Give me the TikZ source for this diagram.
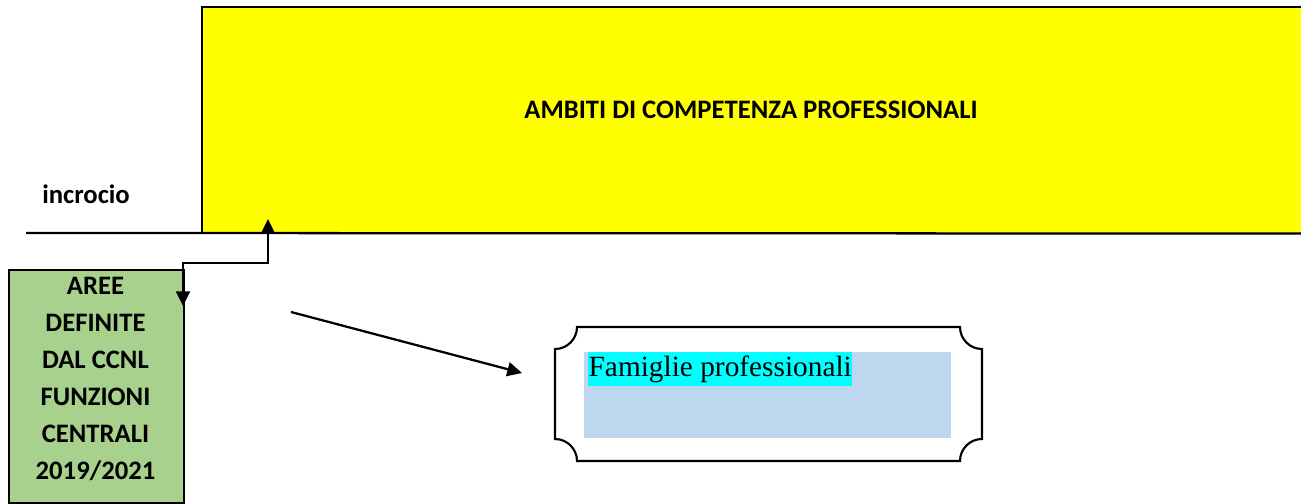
\documentclass[tikz,border=0pt]{standalone}
\usepackage{fontspec}
\setmainfont{Carlito}
\newfontfamily\serifface{Liberation Serif}
\usetikzlibrary{arrows.meta}
\definecolor{ambyellow}{HTML}{FFFF00}
\definecolor{areegreen}{HTML}{A9D18E}
\definecolor{famblue}{HTML}{BDD7EE}
\definecolor{famcyan}{HTML}{00FFFF}
\begin{document}
\begin{tikzpicture}[x=0.75pt,y=-0.75pt,
  bordo/.style={line width=1.7pt,black},
  conn/.style={line width=1.7pt,black},
  tip/.tip={Triangle[length=11pt,width=10.5pt]},
  lbl/.style={font=\bfseries\fontsize{20}{24}\selectfont,inner sep=0pt}]
\useasboundingbox (0,0) rectangle (1301,503);
% yellow box
\node (amb) [fill=ambyellow,inner sep=0pt,minimum width=824.25pt,minimum height=169.5pt,anchor=north west] at (202,7) {};
\draw[bordo] (amb.south west) -- (amb.north west) -- (amb.north east);
\coordinate (lineL) at (26,233);
\draw[bordo] (lineL) -- (amb.south east);
\node (ambtxt) [lbl] at (751,110) {AMBITI DI COMPETENZA PROFESSIONALI};
\node (incr) [lbl,anchor=west] at (42,194) {incrocio};
% green box
\node (aree) [fill=areegreen,draw,line width=1.4pt,inner sep=0pt,minimum width=131.25pt,minimum height=174.75pt,anchor=north west] at (8,269) {};
\node (areetxt) [lbl,align=center,font=\bfseries\fontsize{20}{27.75}\selectfont] at (95.5,379) {AREE\\DEFINITE\\DAL CCNL\\FUNZIONI\\CENTRALI\\2019/2021};
% plaque
\draw[line width=1.6pt,fill=white] (577,327) -- (960,327)
  .. controls (960,339.15) and (969.85,349) .. (982,349) -- (982,439)
  .. controls (969.85,439) and (960,448.85) .. (960,461) -- (577,461)
  .. controls (577,448.85) and (567.15,439) .. (555,439) -- (555,349)
  .. controls (567.15,349) and (577,339.15) .. (577,327) -- cycle;
\node (fam) [fill=famblue,inner sep=0pt,minimum width=275.25pt,minimum height=64.5pt,anchor=north west] at (584,352) {};
\node (famtxt) [fill=famcyan,inner xsep=0.3pt,inner ysep=0pt,minimum height=25.5pt,anchor=north west,font=\serifface\fontsize{22}{26}\selectfont] at (588,352) {Famiglie professionali};
% connectors
\coordinate (up) at (268,219);
\coordinate (mid) at (268,263);
\coordinate (down) at (183,306);
\draw[conn,tip-tip] (up) -- (mid) -| (down);
\coordinate (a1) at (291,312);
\coordinate (a2) at (522,373);
\draw[conn,-tip] (a1) -- (a2);
\end{tikzpicture}
\end{document}
